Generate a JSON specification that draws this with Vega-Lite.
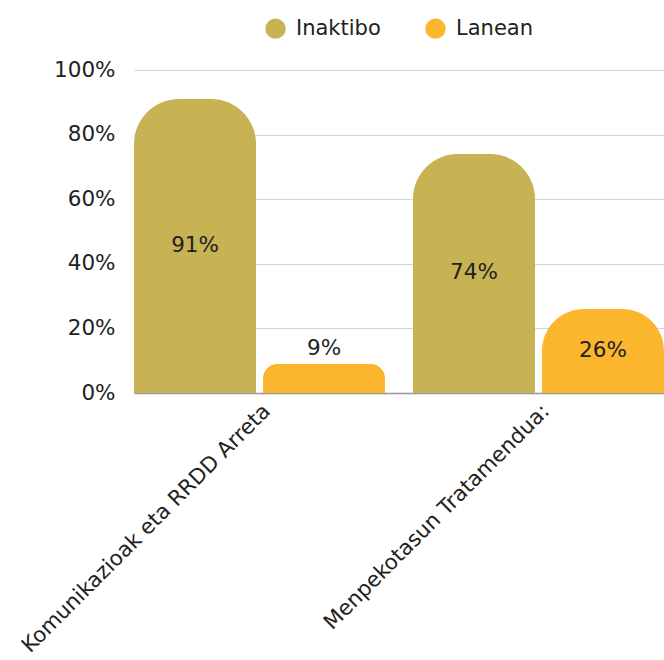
{
  "$schema": "https://vega.github.io/schema/vega-lite/v6.json",
  "width": 530,
  "height": 323,
  "autosize": {"type": "none"},
  "padding": {"left": 134, "top": 70, "right": 0, "bottom": 267},
  "background": "white",
  "config": {
    "font": "DejaVu Sans",
    "view": {"stroke": null},
    "legend": {"layout": {"top": {"anchor": "middle"}}}
  },
  "data": {
    "values": [
      {"cat": "Komunikazioak eta RRDD Arreta", "series": "Inaktibo", "v": 0.91},
      {"cat": "Komunikazioak eta RRDD Arreta", "series": "Lanean", "v": 0.09},
      {"cat": "Menpekotasun Tratamendua:", "series": "Inaktibo", "v": 0.74},
      {"cat": "Menpekotasun Tratamendua:", "series": "Lanean", "v": 0.26}
    ]
  },
  "encoding": {
    "x": {
      "field": "cat", "type": "nominal", "sort": null, "title": null,
      "scale": {"paddingInner": 0.1, "paddingOuter": 0},
      "axis": {"labelAngle": -45, "labelFontSize": 21.2, "labelColor": "#222", "ticks": false, "labelPadding": 7, "domainColor": "#999", "domainWidth": 1.5, "labelLimit": 400}
    },
    "xOffset": {"field": "series", "sort": null, "scale": {"paddingInner": 0.054, "paddingOuter": 0}}
  },
  "layer": [
    {
      "mark": {"type": "bar", "cornerRadiusTopLeft": 45, "cornerRadiusTopRight": 45},
      "encoding": {
        "y": {
          "field": "v", "type": "quantitative", "title": null,
          "scale": {"domain": [0, 1]},
          "axis": {"values": [0, 0.2, 0.4, 0.6, 0.8, 1], "format": ".0%", "labelFontSize": 21.5, "labelColor": "#222", "ticks": false, "domain": false, "labelPadding": 19, "gridColor": "#d4d4d4", "gridWidth": 1.2}
        },
        "color": {
          "field": "series", "type": "nominal", "sort": null, "title": null,
          "scale": {"domain": ["Inaktibo", "Lanean"], "range": ["#C7B254", "#FBB62D"]},
          "legend": {"orient": "top", "direction": "horizontal", "symbolType": "circle", "symbolSize": 415, "labelFontSize": 21, "labelColor": "#222", "labelOffset": 10, "columnPadding": 44, "offset": 31, "symbolStrokeWidth": 0}
        }
      }
    },
    {
      "transform": [
        {"filter": "datum.v > 0.15"},
        {"calculate": "datum.v / 2", "as": "ly"},
        {"calculate": "format(datum.v, '.0%')", "as": "lbl"}
      ],
      "mark": {"type": "text", "fontSize": 21.5, "color": "#222", "baseline": "middle"},
      "encoding": {
        "y": {"field": "ly", "type": "quantitative", "scale": {"domain": [0, 1]}},
        "text": {"field": "lbl"}
      }
    },
    {
      "transform": [
        {"filter": "datum.v <= 0.15"},
        {"calculate": "format(datum.v, '.0%')", "as": "lbl"}
      ],
      "mark": {"type": "text", "fontSize": 21.5, "color": "#222", "baseline": "bottom", "dy": -4},
      "encoding": {
        "y": {"field": "v", "type": "quantitative", "scale": {"domain": [0, 1]}},
        "text": {"field": "lbl"}
      }
    }
  ]
}
